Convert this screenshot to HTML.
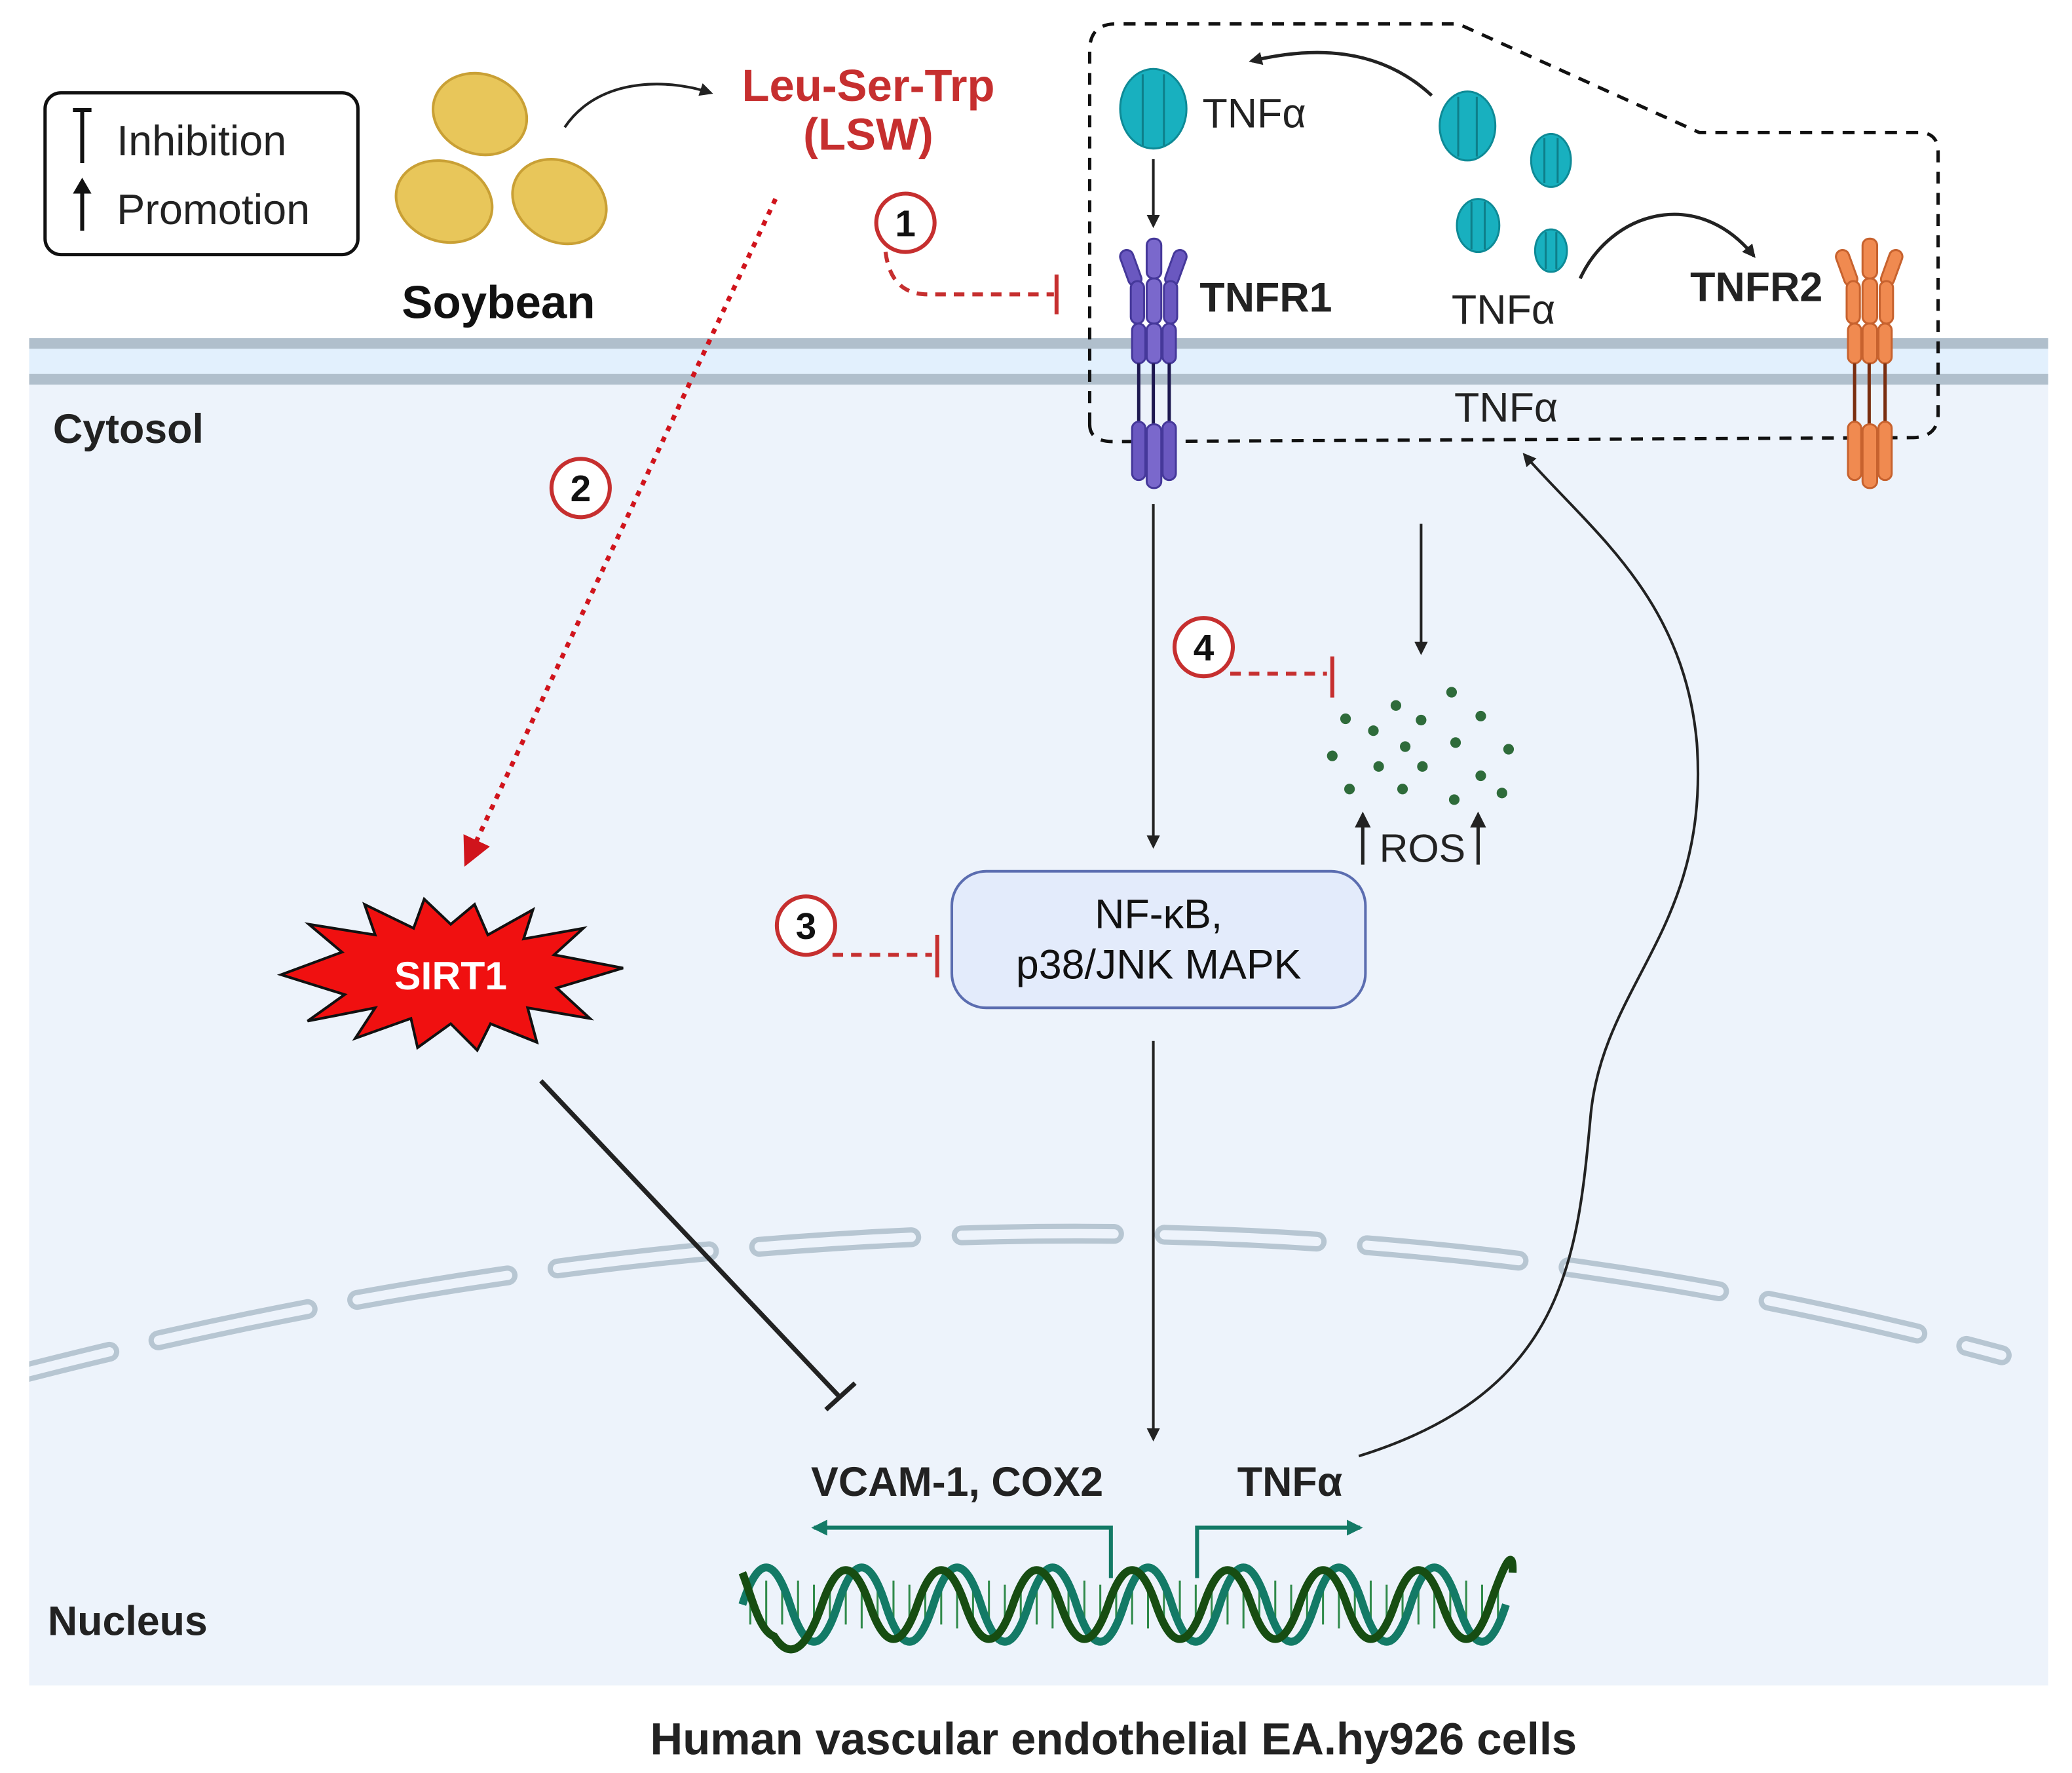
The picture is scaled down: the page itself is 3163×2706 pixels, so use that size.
<!DOCTYPE html>
<html><head><meta charset="utf-8"><style>
html,body{margin:0;padding:0;background:#fff}
svg{display:block}
text{font-family:"Liberation Sans",sans-serif}
</style></head><body>
<svg width="3163" height="2706" viewBox="0 0 1563 1337" preserveAspectRatio="none" xmlns="http://www.w3.org/2000/svg">
<defs>
<marker id="ab" markerWidth="10" markerHeight="10" refX="8" refY="5" orient="auto" markerUnits="userSpaceOnUse"><path d="M0,0 L10,5 L0,10 Z" fill="#222"/></marker>
<marker id="ar" markerWidth="22" markerHeight="22" refX="18" refY="11" orient="auto" markerUnits="userSpaceOnUse"><path d="M0,0 L22,11 L0,22 Z" fill="#d0141c"/></marker>
<marker id="ag" markerWidth="12" markerHeight="12" refX="10" refY="6" orient="auto" markerUnits="userSpaceOnUse"><path d="M0,0 L12,6 L0,12 Z" fill="#137a66"/></marker>
<clipPath id="cc"><rect x="22" y="255" width="1523" height="1016"/></clipPath>
</defs>
<rect width="1563" height="1337" fill="#fff"/>
<rect x="22" y="255" width="1523" height="1016" fill="#edf3fb"/>
<rect x="22" y="262" width="1523" height="22" fill="#e2f0fd"/>
<rect x="22" y="255" width="1523" height="8" fill="#b0bfcc"/>
<rect x="22" y="282" width="1523" height="8" fill="#b0bfcc"/>
<g clip-path="url(#cc)">
<path d="M0,1040 Q800,830 1510,1022" fill="none" stroke="#b7c6d2" stroke-width="15" stroke-dasharray="115,38" stroke-dashoffset="30" stroke-linecap="round"/>
<path d="M0,1040 Q800,830 1510,1022" fill="none" stroke="#edf3fb" stroke-width="7" stroke-dasharray="115,38" stroke-dashoffset="30" stroke-linecap="round"/>
</g>
<rect x="34" y="70" width="236" height="122" rx="12" fill="#fff" stroke="#111" stroke-width="2.5"/>
<path d="M55,83 H69 M62,83 V123" stroke="#111" stroke-width="3"/>
<path d="M62,174 V140" stroke="#111" stroke-width="3"/><path d="M55,146 L62,134 L69,146 Z" fill="#111"/>
<text x="88" y="117" font-size="32" fill="#222">Inhibition</text>
<text x="88" y="169" font-size="32" fill="#222">Promotion</text>
<g fill="#e8c65a" stroke="#c9a035" stroke-width="2">
<ellipse cx="362" cy="86" rx="36" ry="30" transform="rotate(20 362 86)"/>
<ellipse cx="335" cy="152" rx="37" ry="30" transform="rotate(20 335 152)"/>
<ellipse cx="422" cy="152" rx="37" ry="30" transform="rotate(30 422 152)"/>
</g>
<text x="376" y="240" font-size="35" font-weight="bold" text-anchor="middle" fill="#111">Soybean</text>
<path d="M426,96 C450,60 500,58 536,70" fill="none" stroke="#222" stroke-width="2" marker-end="url(#ab)"/>
<text x="655" y="76" font-size="34" font-weight="bold" text-anchor="middle" fill="#c62f2f">Leu-Ser-Trp</text>
<text x="655" y="113" font-size="34" font-weight="bold" text-anchor="middle" fill="#c62f2f">(LSW)</text>
<path d="M585,150 L352,650" stroke="#d0141c" stroke-width="3.5" stroke-dasharray="4,5" fill="none" marker-end="url(#ar)"/>
<g fill="#fff" stroke="#c62f2f" stroke-width="3">
<circle cx="683" cy="168" r="22"/><circle cx="438" cy="368" r="22"/><circle cx="608" cy="698" r="22"/><circle cx="908" cy="488" r="22"/></g>
<g font-size="28" font-weight="bold" text-anchor="middle" fill="#111">
<text x="683" y="178">1</text><text x="438" y="378">2</text><text x="608" y="708">3</text><text x="908" y="498">4</text></g>
<g stroke="#c62f2f" stroke-width="3" fill="none">
<path d="M668,190 Q672,222 700,222 H795" stroke-dasharray="8,6"/><path d="M797,207 V237"/>
<path d="M628,720 H703" stroke-dasharray="8,6"/><path d="M707,705 V737"/>
<path d="M928,508 H1001" stroke-dasharray="8,6"/><path d="M1005,495 V526"/>
</g>
<path d="M822,320 V38 Q822,18 842,18 H1100 L1282,100 H1448 Q1462,100 1462,115 V312 Q1462,330 1442,330 L840,333 Q822,333 822,320 Z" fill="none" stroke="#111" stroke-width="2.5" stroke-dasharray="9,7"/>
<g fill="#18b0bf" stroke="#0e8a96" stroke-width="1.5">
<ellipse cx="870" cy="82" rx="25" ry="30"/><ellipse cx="1107" cy="95" rx="21" ry="26"/><ellipse cx="1170" cy="121" rx="15" ry="20"/><ellipse cx="1115" cy="170" rx="16" ry="20"/><ellipse cx="1170" cy="189" rx="12" ry="16"/></g>
<g stroke="#0e7f8a" stroke-width="1.5"><path d="M862,56 V110 M878,56 V110 M1100,73 V118 M1114,73 V118 M1165,104 V138 M1175,104 V138 M1110,152 V188 M1120,152 V188 M1166,175 V203 M1174,175 V203"/></g>
<text x="907" y="96" font-size="31" fill="#222">TNFα</text>
<path d="M1080,72 C1040,35 990,35 944,46" fill="none" stroke="#222" stroke-width="2.5" marker-end="url(#ab)"/>
<path d="M1192,210 C1215,160 1280,140 1323,193" fill="none" stroke="#222" stroke-width="2.5" marker-end="url(#ab)"/>
<path d="M870,120 V170" stroke="#222" stroke-width="2" marker-end="url(#ab)"/>
<text x="1095" y="244" font-size="31" fill="#222">TNFα</text>
<text x="1097" y="318" font-size="31" fill="#222">TNFα</text>
<text x="905" y="235" font-size="31" font-weight="bold" fill="#222">TNFR1</text>
<text x="1275" y="227" font-size="31" font-weight="bold" fill="#222">TNFR2</text>
<g fill="#6a58c0" stroke="#45389a" stroke-width="1.5">
<rect x="865" y="180" width="11" height="30" rx="5" fill="#7a68cc"/>
<rect x="848" y="188" width="10" height="28" rx="5" transform="rotate(-20 853 202)"/>
<rect x="882" y="188" width="10" height="28" rx="5" transform="rotate(20 887 202)"/>
<rect x="853" y="212" width="10" height="32" rx="5"/><rect x="865" y="210" width="11" height="34" rx="5" fill="#7a68cc"/><rect x="878" y="212" width="10" height="32" rx="5"/>
<rect x="854" y="244" width="10" height="30" rx="5"/><rect x="865" y="244" width="11" height="30" rx="5" fill="#7a68cc"/><rect x="877" y="244" width="10" height="30" rx="5"/>
</g>
<path d="M859,274 V320 M870,274 V320 M882,274 V320" stroke="#1e1850" stroke-width="2.5"/>
<g fill="#6a58c0" stroke="#45389a" stroke-width="1.5"><rect x="854" y="318" width="10" height="44" rx="5"/><rect x="865" y="320" width="11" height="48" rx="5" fill="#7a68cc"/><rect x="877" y="318" width="10" height="44" rx="5"/></g>
<g fill="#f08a50" stroke="#c7622e" stroke-width="1.5">
<rect x="1405" y="180" width="11" height="30" rx="5"/>
<rect x="1388" y="188" width="10" height="28" rx="5" transform="rotate(-20 1393 202)"/>
<rect x="1422" y="188" width="10" height="28" rx="5" transform="rotate(20 1427 202)"/>
<rect x="1393" y="212" width="10" height="32" rx="5"/><rect x="1405" y="210" width="11" height="34" rx="5"/><rect x="1418" y="212" width="10" height="32" rx="5"/>
<rect x="1394" y="244" width="10" height="30" rx="5"/><rect x="1405" y="244" width="11" height="30" rx="5"/><rect x="1417" y="244" width="10" height="30" rx="5"/>
</g>
<path d="M1399,274 V320 M1410,274 V320 M1422,274 V320" stroke="#7a2e10" stroke-width="2.5"/>
<g fill="#f08a50" stroke="#c7622e" stroke-width="1.5"><rect x="1394" y="318" width="10" height="44" rx="5"/><rect x="1405" y="320" width="11" height="48" rx="5"/><rect x="1417" y="318" width="10" height="44" rx="5"/></g>
<text x="40" y="334" font-size="31" font-weight="bold" fill="#222">Cytosol</text>
<path d="M870,380 V638" stroke="#222" stroke-width="2" marker-end="url(#ab)"/>
<path d="M1072,395 V492" stroke="#222" stroke-width="2" marker-end="url(#ab)"/>
<path d="M870,785 V1085" stroke="#222" stroke-width="2" marker-end="url(#ab)"/>
<g fill="#2e6b3a">
<circle cx="1015" cy="542" r="4"/><circle cx="1053" cy="532" r="4"/><circle cx="1095" cy="522" r="4"/><circle cx="1117" cy="540" r="4"/><circle cx="1072" cy="543" r="4"/><circle cx="1036" cy="551" r="4"/><circle cx="1005" cy="570" r="4"/><circle cx="1060" cy="563" r="4"/><circle cx="1098" cy="560" r="4"/><circle cx="1138" cy="565" r="4"/><circle cx="1040" cy="578" r="4"/><circle cx="1073" cy="578" r="4"/><circle cx="1117" cy="585" r="4"/><circle cx="1018" cy="595" r="4"/><circle cx="1058" cy="595" r="4"/><circle cx="1097" cy="603" r="4"/><circle cx="1133" cy="598" r="4"/></g>
<text x="1073" y="650" font-size="30" text-anchor="middle" fill="#222">ROS</text>
<path d="M1028,652 V620 M1115,652 V620" stroke="#222" stroke-width="2.5"/>
<path d="M1022,624 L1028,612 L1034,624 Z M1109,624 L1115,612 L1121,624Z" fill="#222"/>
<rect x="718" y="657" width="312" height="103" rx="26" fill="#e3ebfb" stroke="#5b6db0" stroke-width="2"/>
<text x="874" y="700" font-size="31" text-anchor="middle" fill="#111">NF-κB,</text>
<text x="874" y="738" font-size="31" text-anchor="middle" fill="#111">p38/JNK MAPK</text>
<polygon points="212,735 258,718 233,697 283,705 275,682 312,700 320,678 340,697 358,682 368,705 402,686 395,708 440,700 418,720 470,730 420,745 445,768 398,760 405,786 370,772 360,792 340,772 315,790 310,768 268,783 283,760 232,770 260,750" fill="#f01010" stroke="#111" stroke-width="2"/>
<text x="340" y="746" font-size="30" font-weight="bold" text-anchor="middle" fill="#fff">SIRT1</text>
<path d="M408,815 L633,1053" stroke="#222" stroke-width="3.5"/>
<path d="M623,1063 L645,1043" stroke="#222" stroke-width="3.5"/>
<path d="M1025,1098 C1180,1050 1190,950 1200,840 C1210,740 1290,700 1280,560 C1270,450 1200,400 1150,343" fill="none" stroke="#222" stroke-width="2" marker-end="url(#ab)"/>
<text x="722" y="1128" font-size="31" font-weight="bold" text-anchor="middle" fill="#222">VCAM-1, COX2</text>
<text x="973" y="1128" font-size="31" font-weight="bold" text-anchor="middle" fill="#222">TNFα</text>
<path d="M838,1190 V1152 H614" stroke="#137a66" stroke-width="3" fill="none" marker-end="url(#ag)"/>
<path d="M903,1190 V1152 H1026" stroke="#137a66" stroke-width="3" fill="none" marker-end="url(#ag)"/>
<text x="36" y="1233" font-size="31" font-weight="bold" fill="#222">Nucleus</text>
<g stroke-width="1.5">
<path d="M566,1195 V1225 M578,1192 V1228 M590,1195 V1225 M602,1192 V1228 M614,1195 V1225 M626,1192 V1228 M638,1195 V1225 M650,1192 V1228 M662,1195 V1225 M674,1192 V1228 M686,1195 V1225 M698,1192 V1228 M710,1195 V1225 M722,1192 V1228 M734,1195 V1225 M746,1192 V1228 M758,1195 V1225 M770,1192 V1228 M782,1195 V1225 M794,1192 V1228 M806,1195 V1225 M818,1192 V1228 M830,1195 V1225 M842,1192 V1228 M854,1195 V1225 M866,1192 V1228 M878,1195 V1225 M890,1192 V1228 M902,1195 V1225 M914,1192 V1228 M926,1195 V1225 M938,1192 V1228 M950,1195 V1225 M962,1192 V1228 M974,1195 V1225 M986,1192 V1228 M998,1195 V1225 M1010,1192 V1228 M1022,1195 V1225 M1034,1192 V1228 M1046,1195 V1225 M1058,1192 V1228 M1070,1195 V1225 M1082,1192 V1228 M1094,1195 V1225 M1106,1192 V1228 M1118,1195 V1225 M1130,1192 V1228" stroke="#2f8a4a"/></g>
<path d="M560,1210 q18,-56 36,0 t36,0 t36,0 t36,0 t36,0 t36,0 t36,0 t36,0 t36,0 t36,0 t36,0 t36,0 t36,0 t36,0 t36,0 t36,0" fill="none" stroke="#137a66" stroke-width="6"/>
<path d="M560,1186 C566,1200 572,1230 584,1234 q18,28 36,-24 t36,0 t36,0 t36,0 t36,0 t36,0 t36,0 t36,0 t36,0 t36,0 t36,0 t36,0 t36,0 t36,0 t36,0 t17,-24" fill="none" stroke="#174d12" stroke-width="6"/>
<text x="840" y="1323" font-size="34" font-weight="bold" text-anchor="middle" fill="#222">Human vascular endothelial EA.hy926 cells</text>
</svg>
</body></html>
